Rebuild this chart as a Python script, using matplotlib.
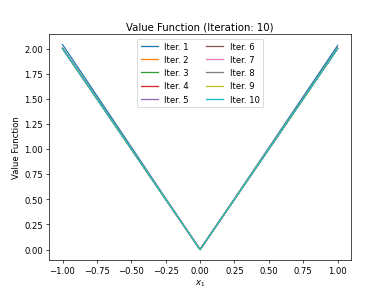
import matplotlib
matplotlib.use("Agg")
import matplotlib.pyplot as plt

x_vals = [-1.0, 0.0, 1.0]
iterations = [1, 2, 3, 4, 5, 6, 7, 8, 9, 10]
left_vals = [2.04, 2.003, 2.002, 2.002, 2.001, 2.001, 2.001, 2.0, 2.0, 2.0]
center_vals = [0.0] * 10
right_vals = [2.03, 2.003, 2.002, 2.002, 2.001, 2.001, 2.001, 2.0, 2.0, 2.0]

fig, ax = plt.subplots(figsize=(6.4, 4.8), dpi=61)
for i, it in enumerate(iterations):
    ax.plot(x_vals, [left_vals[i], center_vals[i], right_vals[i]], label=f"Iter. {it}", lw=1.5)
ax.set_title("Value Function (Iteration: 10)")
ax.set_xlabel("$x_1$")
ax.set_ylabel("Value Function")
ax.legend(ncol=2, loc="upper center")
fig.savefig("out.png", dpi=61)
